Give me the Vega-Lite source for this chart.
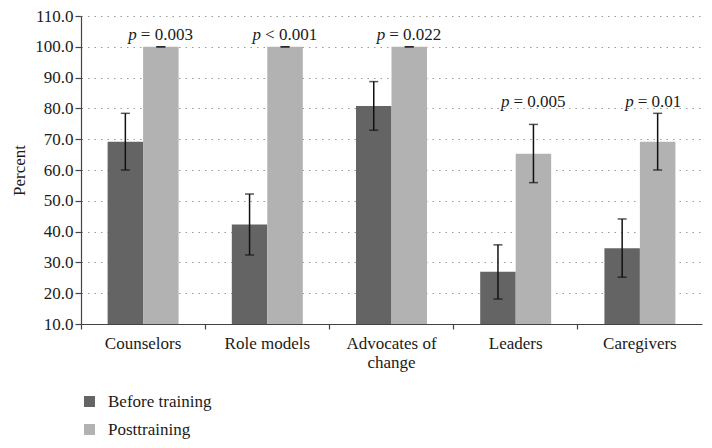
{
  "$schema": "https://vega.github.io/schema/vega-lite/v6.json",
  "width": 621,
  "height": 308,
  "autosize": {"type": "none"},
  "padding": {"left": 81, "top": 16, "right": 10, "bottom": 124},
  "background": "white",
  "config": {
    "view": {"stroke": null},
    "font": "Liberation Serif",
    "axis": {"labelFont": "Liberation Serif", "titleFont": "Liberation Serif", "labelColor": "#1a1a1a", "titleColor": "#1a1a1a", "labelOverlap": false},
    "axisQuantitative": {"labelOverlap": false, "tickCount": 11},
    "axisY": {"labelOverlap": false, "labelFontSize": 17, "labelPadding": 2, "titleFontSize": 17, "titleFontWeight": "normal", "titlePadding": 6, "labelBound": false},
    "legend": {"labelFont": "Liberation Serif"}
  },
  "datasets": {
    "bars": [
      {"role": "Counselors", "group": "Before training", "value": 69.2, "lo": 60.0, "hi": 78.4},
      {"role": "Counselors", "group": "Posttraining", "value": 100.0, "lo": 100.0, "hi": 100.0},
      {"role": "Role models", "group": "Before training", "value": 42.3, "lo": 32.4, "hi": 52.2},
      {"role": "Role models", "group": "Posttraining", "value": 100.0, "lo": 100.0, "hi": 100.0},
      {"role": "Advocates of change", "group": "Before training", "value": 80.8, "lo": 72.9, "hi": 88.7},
      {"role": "Advocates of change", "group": "Posttraining", "value": 100.0, "lo": 100.0, "hi": 100.0},
      {"role": "Leaders", "group": "Before training", "value": 27.0, "lo": 18.1, "hi": 35.7},
      {"role": "Leaders", "group": "Posttraining", "value": 65.3, "lo": 55.9, "hi": 74.8},
      {"role": "Caregivers", "group": "Before training", "value": 34.6, "lo": 25.2, "hi": 44.1},
      {"role": "Caregivers", "group": "Posttraining", "value": 69.2, "lo": 60.0, "hi": 78.4}
    ],
    "pvals": [
      {"role": "Counselors", "group": "Posttraining", "p": "p", "stat": "= 0.003", "ly": 103.8},
      {"role": "Role models", "group": "Posttraining", "p": "p", "stat": "< 0.001", "ly": 103.8},
      {"role": "Advocates of change", "group": "Posttraining", "p": "p", "stat": "= 0.022", "ly": 103.8},
      {"role": "Leaders", "group": "Posttraining", "p": "p", "stat": "= 0.005", "ly": 82.2},
      {"role": "Caregivers", "group": "Posttraining", "p": "p", "stat": "= 0.01", "ly": 82.2}
    ]
  },
  "encoding": {
    "x": {
      "field": "role", "type": "nominal",
      "sort": ["Counselors", "Role models", "Advocates of change", "Leaders", "Caregivers"],
      "scale": {"paddingInner": 0, "paddingOuter": 0},
      "axis": {
        "title": null, "labelAngle": 0, "bandPosition": 0,
        "domainColor": "#444", "domainWidth": 1.2, "tickColor": "#444", "tickSize": 5, "tickWidth": 1.2,
        "labelFontSize": 17, "labelPadding": 6, "labelLineHeight": 19,
        "labelExpr": "datum.label == 'Advocates of change' ? ['Advocates of', 'change'] : datum.label"
      }
    },
    "xOffset": {
      "field": "group", "type": "nominal",
      "sort": ["Before training", "Posttraining"],
      "scale": {"paddingInner": 0, "paddingOuter": 0.75}
    }
  },
  "layer": [
    {
      "data": {"name": "bars"},
      "mark": {"type": "bar"},
      "encoding": {
        "y": {
          "field": "value", "type": "quantitative",
          "scale": {"domain": [10, 110], "nice": false, "zero": false},
          "axis": {
            "title": "Percent",
            "values": [10, 20, 30, 40, 50, 60, 70, 80, 90, 100, 110], "format": ".1f",
            "labelOverlap": false,
            "domainColor": "#444", "domainWidth": 1.2, "tickColor": "#444", "tickSize": 6, "tickWidth": 1.2,
            "grid": true, "gridColor": "#9a9a9a", "gridDash": [1.5, 5], "gridWidth": 1.2
          }
        },
        "y2": {"datum": 10},
        "color": {
          "field": "group", "type": "nominal",
          "scale": {"domain": ["Before training", "Posttraining"], "range": ["#646464", "#b2b2b2"]},
          "legend": {
            "title": null, "orient": "none", "legendX": 0, "legendY": 377,
            "symbolType": "square", "symbolSize": 121, "symbolStrokeWidth": 0,
            "labelFontSize": 17, "labelColor": "#1a1a1a", "labelOffset": 10, "rowPadding": 10, "padding": 0
          }
        }
      }
    },
    {
      "data": {"name": "bars"},
      "mark": {"type": "rule", "color": "#111", "strokeWidth": 1.5},
      "encoding": {
        "y": {"field": "lo", "type": "quantitative"},
        "y2": {"field": "hi"}
      }
    },
    {
      "data": {"name": "bars"},
      "mark": {"type": "tick", "color": "#111", "size": 9, "thickness": 1.5, "orient": "horizontal"},
      "encoding": {"y": {"field": "lo", "type": "quantitative"}}
    },
    {
      "data": {"name": "bars"},
      "mark": {"type": "tick", "color": "#111", "size": 9, "thickness": 1.5, "orient": "horizontal"},
      "encoding": {"y": {"field": "hi", "type": "quantitative"}}
    },
    {
      "data": {"name": "pvals"},
      "mark": {"type": "text", "font": "Liberation Serif", "fontSize": 17, "fontStyle": "italic", "align": "right", "baseline": "middle", "dx": -24, "color": "#1a1a1a"},
      "encoding": {"y": {"field": "ly", "type": "quantitative"}, "text": {"field": "p"}}
    },
    {
      "data": {"name": "pvals"},
      "mark": {"type": "text", "font": "Liberation Serif", "fontSize": 17, "align": "left", "baseline": "middle", "dx": -20, "color": "#1a1a1a"},
      "encoding": {"y": {"field": "ly", "type": "quantitative"}, "text": {"field": "stat"}}
    }
  ]
}
